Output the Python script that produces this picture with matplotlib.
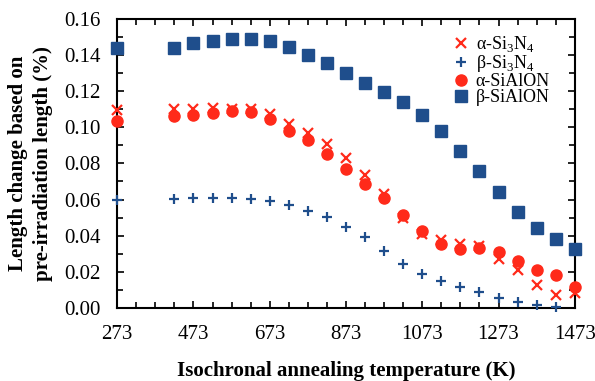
import matplotlib
matplotlib.use("Agg")
import matplotlib.pyplot as plt
from matplotlib.ticker import MultipleLocator

plt.rcParams['font.family'] = ['Liberation Serif', 'DejaVu Serif']
plt.rcParams['mathtext.fontset'] = 'custom'
plt.rcParams['mathtext.rm'] = 'Liberation Serif'

temps_a = [273, 423, 473, 523, 573, 623, 673, 723, 773, 823, 873, 923, 973,
           1023, 1073, 1123, 1173, 1223, 1273, 1323, 1373, 1423, 1473]
temps_b = temps_a[:-1]

alpha_si3n4 = [0.1096, 0.110, 0.110, 0.1106, 0.110, 0.110, 0.1076, 0.102, 0.097,
               0.0906, 0.0829, 0.0736, 0.063, 0.0497, 0.0408, 0.0376, 0.0354,
               0.034, 0.027, 0.0207, 0.0127, 0.0072, 0.0081]
beta_si3n4 = [0.0596, 0.0605, 0.061, 0.061, 0.061, 0.0602, 0.0592, 0.0572, 0.0539,
              0.0502, 0.0447, 0.039, 0.0317, 0.0242, 0.0188, 0.0151, 0.0115,
              0.009, 0.0052, 0.0035, 0.0017, 0.0005]
alpha_sialon = [0.1035, 0.1065, 0.107, 0.108, 0.109, 0.1087, 0.1047, 0.098, 0.093,
                0.085, 0.077, 0.0688, 0.0607, 0.0515, 0.0426, 0.0353, 0.0327,
                0.033, 0.0312, 0.0262, 0.021, 0.0183, 0.0115]
beta_sialon = [0.1438, 0.144, 0.147, 0.148, 0.149, 0.149, 0.148, 0.1445, 0.140,
               0.1355, 0.130, 0.1248, 0.1196, 0.1142, 0.107, 0.098, 0.087,
               0.076, 0.064, 0.053, 0.044, 0.038, 0.0327]

red = '#ff2a1a'
blue = '#1f4e8c'

fig = plt.figure(figsize=(5.95, 3.81), dpi=100)
ax = fig.add_axes([0.197, 0.192, 0.769, 0.758])

ax.plot(temps_a, alpha_si3n4, 'x', color=red, ms=7, mew=1.6, ls='none',
        label='α-Si$_\\mathrm{3}$N$_\\mathrm{4}$', clip_on=False, zorder=4)
ax.plot(temps_b, beta_si3n4, '+', color=blue, ms=7, mew=1.6, ls='none',
        label='β-Si$_\\mathrm{3}$N$_\\mathrm{4}$', clip_on=False, zorder=4)
ax.plot(temps_a, alpha_sialon, 'o', color=red, ms=8, mec=red, ls='none',
        label='α-SiAlON', clip_on=False, zorder=3)
ax.plot(temps_a, beta_sialon, 's', color=blue, ms=8.5, mec=blue, ls='none',
        label='β-SiAlON', clip_on=False, zorder=3)

ax.set_xlim(273, 1473)
ax.set_ylim(0, 0.16)
ax.xaxis.set_major_locator(MultipleLocator(200, offset=73))
ax.xaxis.set_minor_locator(MultipleLocator(50, offset=23))
ax.yaxis.set_major_locator(MultipleLocator(0.02))
ax.yaxis.set_minor_locator(MultipleLocator(0.01))
ax.yaxis.set_major_formatter(plt.FuncFormatter(lambda v, p: f'{v:.2f}'))
ax.tick_params(which='both', direction='in', top=True, right=True, labelsize=15)
ax.tick_params(which='major', length=5, width=1.2)
ax.tick_params(which='minor', length=4, width=1.2)
ax.tick_params(axis='x', pad=12)
ax.tick_params(axis='y', pad=12)
for s in ax.spines.values():
    s.set_linewidth(1.5)

ax.set_xlabel('Isochronal annealing temperature (K)', fontsize=15,
              fontweight='bold', va='top')
ax.xaxis.set_label_coords(0.5, -0.185)
ax.set_ylabel('Length change based on\npre-irradiation length (%)', fontsize=15,
              fontweight='bold', linespacing=1.35)
ax.yaxis.set_label_coords(-0.14, 0.5)

ax.legend(loc='upper left', frameon=False, fontsize=13, handletextpad=0.3,
          handlelength=1.0, labelspacing=-0.05, borderpad=0, borderaxespad=0,
          bbox_to_anchor=(0.732, 0.948))

fig.savefig('out.png', dpi=100)
